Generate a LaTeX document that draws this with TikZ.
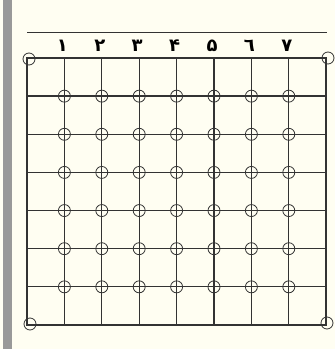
\documentclass[tikz,border=0pt]{standalone}
\usepackage{fontspec}
\newfontfamily\farsifont[Script=Arabic]{DejaVu Sans}
\usetikzlibrary{positioning}

\begin{document}
\begin{tikzpicture}[x=1pt,y=-1pt,
  gridline/.style={line width=1.3pt,black!80},
  hole/.style={draw,circle,inner sep=0pt,minimum size=12pt,line width=0.8pt,black!80},
  digit/.style={font=\farsifont\bfseries\fontsize{18}{18}\selectfont,inner sep=0pt}]
\useasboundingbox (0,0) rectangle (335,349);
\fill[yellow!5] (0,0) rectangle (335,349);
\fill[black!40] (3,0) rectangle (12,349);
% top rule
\draw[line width=1pt,black!80] (27,32) -- (327,32);
% frame and grid
\draw[gridline] (27,58) rectangle (326,325);
\foreach \i in {1,...,7}
  \draw[gridline] ({27+37.4*\i},58) -- ({27+37.4*\i},325);
\foreach \j in {1,...,6}
  \draw[gridline] (27,{58+38.14*\j}) -- (326,{58+38.14*\j});
% column numbers
\foreach \i/\d in {1/١,2/۲,3/۳,4/۴,5/۵,6/٦,7/٧}
  \node[digit] (d\i) at ({25+37.4*\i},46) {\d};
% holes
\foreach \i in {1,...,7}
  \foreach \j in {1,...,6}
    \node[hole] (h-\i-\j) at ({27+37.4*\i},{58+38.14*\j}) {};
\node[hole] (h-tl) at (29,59) {};
\node[hole] (h-tr) at (328,58) {};
\node[hole] (h-bl) at (30,324) {};
\node[hole] (h-br) at (327,323) {};
\end{tikzpicture}
\end{document}
